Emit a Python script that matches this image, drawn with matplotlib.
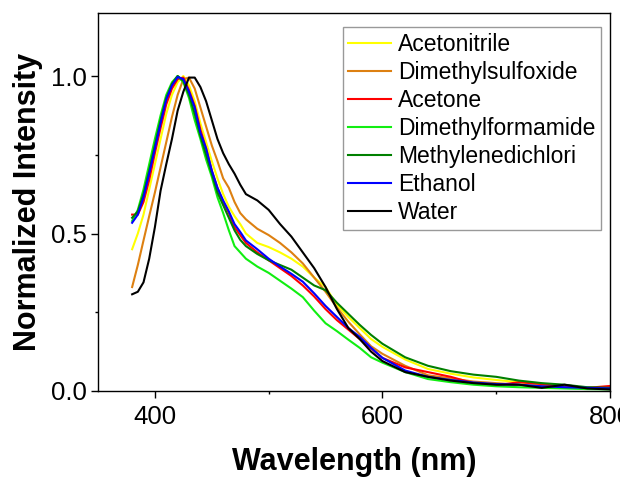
import matplotlib
matplotlib.use("Agg")
import matplotlib.pyplot as plt
from matplotlib.ticker import MultipleLocator

plt.rcParams['font.family'] = ['Liberation Sans', 'DejaVu Sans']

wavelength = [380, 385, 390, 395, 400, 405, 410, 415, 420, 425, 430, 435, 440, 445,
              450, 455, 460, 465, 470, 475, 480, 490, 500, 510, 520, 530, 540, 550,
              560, 570, 580, 590, 600, 620, 640, 660, 680, 700, 720, 740, 760, 780, 800]

acetonitrile = [0.45, 0.50, 0.56, 0.64, 0.72, 0.80, 0.88, 0.94, 0.98, 1.0, 0.97, 0.92, 0.85, 0.79,
                0.73, 0.675, 0.625, 0.585, 0.555, 0.53, 0.50, 0.47, 0.457, 0.44, 0.42, 0.395, 0.36, 0.33,
                0.273, 0.235, 0.20, 0.165, 0.14, 0.10, 0.07, 0.055, 0.043, 0.035, 0.028, 0.02, 0.015, 0.01, 0.008]
dmso = [0.33, 0.40, 0.478, 0.555, 0.63, 0.71, 0.79, 0.87, 0.94, 0.99, 0.995, 0.96, 0.90, 0.84,
        0.78, 0.73, 0.675, 0.645, 0.60, 0.565, 0.545, 0.515, 0.495, 0.47, 0.44, 0.405, 0.36, 0.315,
        0.265, 0.22, 0.18, 0.142, 0.118, 0.08, 0.05, 0.04, 0.03, 0.025, 0.02, 0.015, 0.012, 0.01, 0.008]
acetone = [0.56, 0.56, 0.60, 0.67, 0.755, 0.835, 0.91, 0.96, 0.99, 0.995, 0.955, 0.905, 0.83, 0.77,
           0.70, 0.645, 0.60, 0.565, 0.52, 0.495, 0.47, 0.44, 0.415, 0.39, 0.365, 0.335, 0.30, 0.26,
           0.225, 0.195, 0.165, 0.135, 0.105, 0.075, 0.06, 0.045, 0.025, 0.018, 0.028, 0.022, 0.012, 0.01, 0.016]
dmf = [0.54, 0.575, 0.64, 0.72, 0.80, 0.875, 0.94, 0.98, 1.0, 0.98, 0.93, 0.86, 0.80, 0.735,
       0.68, 0.615, 0.565, 0.51, 0.46, 0.44, 0.42, 0.395, 0.375, 0.35, 0.325, 0.298, 0.255, 0.215,
       0.19, 0.163, 0.137, 0.107, 0.09, 0.06, 0.038, 0.028, 0.02, 0.015, 0.012, 0.01, 0.008, 0.006, 0.005]
dcm = [0.55, 0.57, 0.625, 0.70, 0.78, 0.86, 0.93, 0.975, 1.0, 0.985, 0.94, 0.88, 0.81, 0.75,
       0.69, 0.63, 0.59, 0.55, 0.51, 0.48, 0.46, 0.435, 0.415, 0.40, 0.385, 0.36, 0.335, 0.32,
       0.28, 0.245, 0.21, 0.178, 0.15, 0.107, 0.08, 0.063, 0.052, 0.045, 0.033, 0.025, 0.02, 0.012, 0.01]
ethanol = [0.534, 0.56, 0.615, 0.69, 0.77, 0.85, 0.925, 0.97, 0.997, 0.99, 0.95, 0.90, 0.82, 0.77,
           0.70, 0.645, 0.605, 0.57, 0.53, 0.505, 0.478, 0.45, 0.42, 0.395, 0.372, 0.347, 0.31, 0.27,
           0.235, 0.20, 0.172, 0.137, 0.105, 0.065, 0.045, 0.035, 0.027, 0.022, 0.02, 0.015, 0.012, 0.01, 0.008]
water = [0.307, 0.315, 0.345, 0.42, 0.52, 0.636, 0.72, 0.80, 0.89, 0.95, 0.995, 0.995, 0.965, 0.92,
         0.86, 0.80, 0.755, 0.72, 0.69, 0.655, 0.625, 0.605, 0.575, 0.53, 0.49, 0.44, 0.39, 0.33,
         0.26, 0.20, 0.165, 0.125, 0.095, 0.06, 0.045, 0.033, 0.025, 0.02, 0.02, 0.01, 0.02, 0.008, 0.005]

labels = ['Acetonitrile', 'Dimethylsulfoxide', 'Acetone', 'Dimethylformamide',
          'Methylenedichlori', 'Ethanol', 'Water']
series = [acetonitrile, dmso, acetone, dmf, dcm, ethanol, water]
colors = ['#ffff00', '#dd8011', '#ff0000', '#11ee11', '#008000', '#0000ff', '#000000']

fig = plt.figure(figsize=(6.2, 4.79), dpi=100)
ax = fig.add_axes([98/620, 1-391/479, 512/620, 378/479])

for ys, lab, c in zip(series, labels, colors):
    ax.plot(wavelength, ys, color=c, lw=1.5, label=lab)

ax.set_xlim(350, 800)
ax.set_ylim(0, 1.2)
ax.xaxis.set_minor_locator(MultipleLocator(100))
ax.yaxis.set_minor_locator(MultipleLocator(0.25))
ax.set_yticks([0.0, 0.5, 1.0])
ax.set_yticklabels(['0.0', '0.5', '1.0'])
ax.set_xticks([400, 600, 800])
ax.tick_params(which='major', direction='out', length=5, width=1, labelsize=18.5, pad=3)
ax.tick_params(axis='x', which='major', pad=5)
ax.tick_params(which='minor', direction='out', length=2.5, width=1)
ax.tick_params(top=False, right=False)
for s in ax.spines.values():
    s.set_linewidth(1.0)

ax.set_xlabel('Wavelength (nm)', fontsize=22, fontweight='bold', labelpad=13)
ax.set_ylabel('Normalized Intensity', fontsize=22, fontweight='bold', labelpad=6)

leg = ax.legend(loc='upper right', bbox_to_anchor=(0.982, 0.962), fontsize=16.5,
                frameon=True, fancybox=False, handlelength=1.85, handletextpad=0.3,
                labelspacing=0.22, borderpad=0.25, borderaxespad=0)
leg.get_frame().set_edgecolor('#808080')
leg.get_frame().set_linewidth(1.0)

fig.savefig('out.png', dpi=100)
